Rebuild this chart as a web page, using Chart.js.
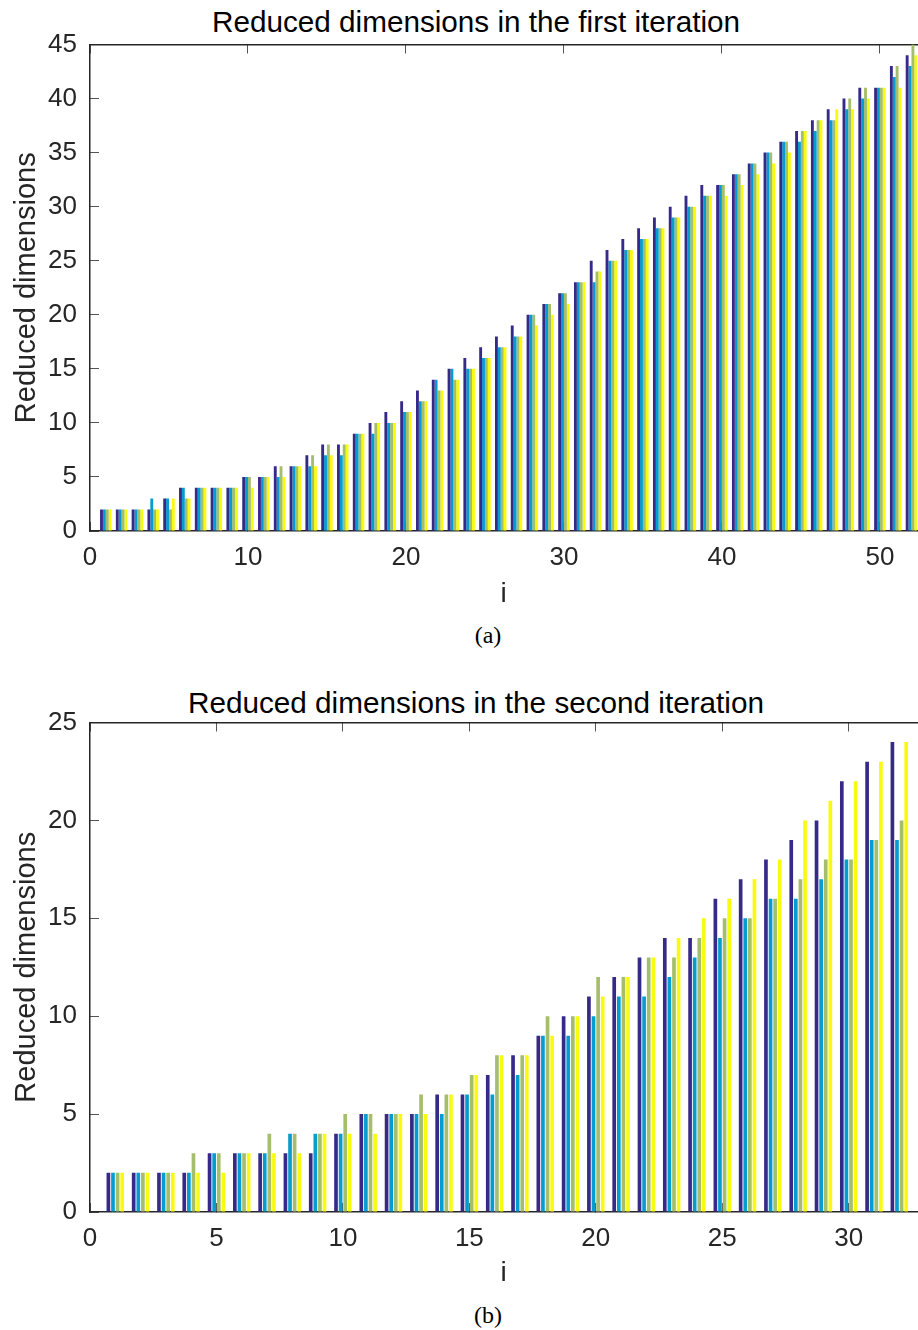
<!DOCTYPE html>
<html lang="en">
<head>
  <meta charset="UTF-8" />
  <title>Reduced dimensions</title>
  <script src="https://cdn.jsdelivr.net/npm/chart.js"></script>
  <style>
    html, body { margin: 0; padding: 0; background: #fff; overflow: hidden; }
    body { width: 918px; height: 1330px; position: relative; }
    .panel { position: absolute; left: 0; }
    .title { position: absolute; left: 476px; transform: translateX(-50%); white-space: nowrap;
             font-family: 'Liberation Sans', Arial, sans-serif; font-size: 29.7px; line-height: 30px; color: #000; }
    .cap { position: absolute; font-family: 'Liberation Serif', 'DejaVu Serif', serif; font-size: 24px; color: #000; transform: translateX(-50%); }
  </style>
</head>
<body>
  <div class="title" style="top:7px;">Reduced dimensions in the first iteration</div>
  <canvas id="first" class="panel" style="top:0" width="918" height="615"></canvas>
  <div class="cap" style="left:488px; top:622px;">(a)</div>

  <div class="title" style="top:688px;">Reduced dimensions in the second iteration</div>
  <canvas id="second" class="panel" style="top:678px" width="918" height="620"></canvas>
  <div class="cap" style="left:488px; top:1302px;">(b)</div>

  <script>
    // index i on the horizontal axis
    const idxFirst = Array.from({ length: 52 }, (_, k) => k + 1);
    const idxSecond = Array.from({ length: 32 }, (_, k) => k + 1);

    // first iteration, one array per bar in each group
    const firstA = [2,2,2,2,3,4,4,4,4,5,5,6,6,7,8,8,9,10,11,12,13,14,15,16,17,18,19,20,21,22,23,25,26,27,28,29,30,31,32,32,33,34,35,36,37,38,39,40,41,41,43,44];
    const firstB = [2,2,2,3,3,4,4,4,4,5,5,5,6,6,7,7,9,9,10,11,12,14,15,15,16,17,18,20,21,22,23,23,25,26,27,28,29,30,31,32,33,34,35,36,36,37,38,39,40,41,42,43];
    const firstC = [2,2,2,2,2,3,4,4,4,5,5,6,6,7,8,8,9,10,10,11,12,13,14,15,16,17,18,20,21,22,23,24,25,26,27,28,29,30,31,32,33,34,35,36,37,38,38,40,41,41,43,45];
    const firstD = [2,2,2,2,3,3,4,4,4,4,5,5,6,6,7,8,9,10,10,11,12,13,14,15,16,17,18,19,20,21,23,24,25,26,27,28,29,30,31,31,32,33,34,35,37,38,39,39,40,41,41,44];

    // second iteration
    const secondA = [2,2,2,2,3,3,3,3,3,4,5,5,5,6,6,7,8,9,10,11,12,13,14,14,16,17,18,19,20,22,23,24];
    const secondB = [2,2,2,2,3,3,3,4,4,4,5,5,5,5,6,6,7,9,9,10,11,11,12,13,14,15,16,16,17,18,19,19];
    const secondC = [2,2,2,3,3,3,4,4,4,5,5,5,6,6,7,8,8,10,10,12,12,13,13,14,15,15,16,17,18,18,19,20];
    const secondD = [2,2,2,2,2,3,3,3,4,4,4,5,5,6,7,8,8,9,10,11,12,13,14,15,16,17,18,20,21,22,23,24];

    const seriesNames = ['run 1', 'run 2', 'run 3', 'run 4'];
    const seriesColors = ['#352a87', '#079ccf', '#a5be6b', '#f9fb0e'];

    const xTicksFirst = [0, 10, 20, 30, 40, 50];
    const xTicksSecond = [0, 5, 10, 15, 20, 25, 30];
    const yTicksFirst = [0, 5, 10, 15, 20, 25, 30, 35, 40, 45];
    const yTicksSecond = [0, 5, 10, 15, 20, 25];

    Chart.defaults.font.family = "'Liberation Sans', Arial, sans-serif";
    Chart.defaults.color = '#262626';

    const axisColor = '#262626';
    const tickLen = -9; // negative length points the tick marks into the plot

    function drawIteration(canvasId, cfg) {
      const datasets = cfg.series.map((vals, s) => ({
        label: seriesNames[s],
        data: vals.map((v, k) => ({ x: cfg.idx[k], y: v })),
        backgroundColor: seriesColors[s],
        borderWidth: 0,
        categoryPercentage: 0.727,
        barPercentage: cfg.barPct
      }));

      const fixedTicks = (list) => (scale) => {
        scale.ticks = list.map(v => ({ value: v }));
      };

      new Chart(document.getElementById(canvasId), {
        type: 'bar',
        data: { datasets },
        options: {
          responsive: false,
          animation: false,
          layout: { padding: { left: 0, right: 1, top: 44.5, bottom: 0 } },
          plugins: {
            legend: { display: false },
            tooltip: { enabled: false }
          },
          scales: {
            x: {
              type: 'linear',
              position: 'bottom',
              min: 0,
              max: cfg.xMax,
              offset: false,
              afterBuildTicks: fixedTicks(cfg.xTicks),
              afterFit: (scale) => { scale.height = cfg.xHeight; },
              grid: { offset: false, drawOnChartArea: false, drawTicks: true, tickLength: tickLen, color: '#555', lineWidth: 1 },
              border: { display: true, color: axisColor, width: 1.5 },
              ticks: { font: { size: 26 }, padding: 20, maxRotation: 0, color: '#262626' },
              title: { display: true, text: 'i', font: { size: 28 }, color: '#262626', padding: { top: 0, bottom: cfg.iPad } }
            },
            xTop: {
              type: 'linear',
              position: 'top',
              min: 0,
              max: cfg.xMax,
              offset: false,
              afterBuildTicks: fixedTicks(cfg.xTicks),
              afterFit: (scale) => { scale.height = 0; },
              grid: { offset: false, drawOnChartArea: false, drawTicks: true, tickLength: tickLen, color: '#555', lineWidth: 1 },
              border: { display: true, color: axisColor, width: 1.5 },
              ticks: { display: false }
            },
            y: {
              min: 0,
              max: cfg.yMax,
              afterBuildTicks: fixedTicks(cfg.yTicks),
              afterFit: (scale) => { scale.width = 90; },
              grid: { drawOnChartArea: false, drawTicks: true, tickLength: tickLen, color: '#555', lineWidth: 1 },
              border: { display: true, color: axisColor, width: 1.5 },
              ticks: { font: { size: 26 }, padding: 22, color: '#262626' },
              title: { display: true, text: 'Reduced dimensions', font: { size: 29 }, color: '#262626', padding: { top: 10, bottom: 0 } }
            }
          }
        }
      });
    }

    drawIteration('first', {
      idx: idxFirst,
      series: [firstA, firstB, firstC, firstD],
      xMax: 52.35,
      xTicks: xTicksFirst,
      yMax: 45,
      yTicks: yTicksFirst,
      xHeight: 615 - 531,
      iPad: 4,
      barPct: 1.0
    });

    drawIteration('second', {
      idx: idxSecond,
      series: [secondA, secondB, secondC, secondD],
      xMax: 32.7,
      xTicks: xTicksSecond,
      yMax: 25,
      yTicks: yTicksSecond,
      xHeight: 620 - 534,
      iPad: 8,
      barPct: 0.8
    });
  </script>
</body>
</html>
